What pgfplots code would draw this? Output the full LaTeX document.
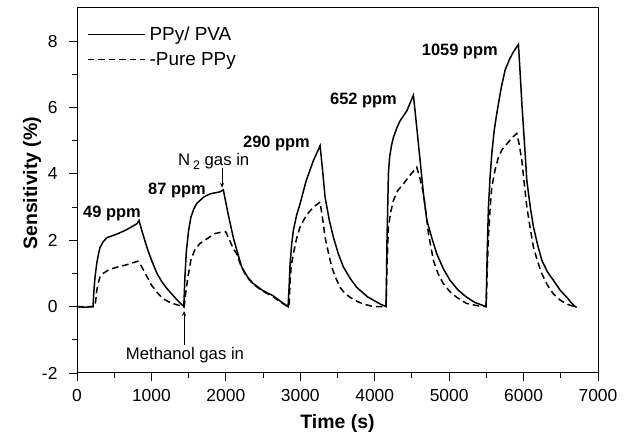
\documentclass[border=0pt]{standalone}
\usepackage{fontspec}
\setmainfont{Liberation Sans}
\usepackage{pgfplots}
\pgfplotsset{compat=1.18}
\usetikzlibrary{calc,arrows.meta}
\newcommand{\ticksize}{\fontsize{17.5}{19}\selectfont}
\newcommand{\labsize}{\fontsize{19.5}{21}\selectfont\bfseries}
\newcommand{\annb}{\fontsize{16.5}{18}\selectfont\bfseries}
\newcommand{\anns}{\fontsize{16.8}{18}\selectfont}
\newcommand{\legsize}{\fontsize{19}{20}\selectfont}
\begin{document}
\begin{tikzpicture}
\begin{axis}[
  width=521bp, height=365bp, scale only axis,
  xmin=0, xmax=7000, ymin=-2, ymax=9,
  xtick={0,1000,...,7000}, ytick={-2,0,2,4,6,8},
  minor xtick={500,1500,...,6500}, minor ytick={-1,1,3,5,7},
  tick pos=left, tick align=outside,
  major tick length=8bp, minor tick length=5bp,
  axis line style={line width=1pt},
  every tick/.style={black, line width=0.9pt},
  tick label style={font=\ticksize},
  /pgf/number format/assume math mode=true,
  scaled x ticks=false,
  xticklabel style={/pgf/number format/1000 sep={}, yshift=-5bp},
  yticklabel style={xshift=-8bp},
  xlabel={Time (s)}, ylabel={Sensitivity (\%)},
  xlabel style={font=\labsize, at={(axis description cs:0.5,-0.137)}, anchor=center},
  ylabel style={font=\labsize, at={(axis description cs:-0.0864,0.52)}, anchor=center},
  legend style={draw=none, fill=none, at={(axis description cs:0.019,0.953)}, anchor=north west, font=\legsize, row sep=7bp, column sep=3bp, inner sep=0pt, nodes={inner xsep=1bp, inner ysep=1.5bp}},
  legend cell align=left,
  legend image code/.code={\draw[#1] (0bp,0bp) -- (57bp,0bp);},
]
\addplot[black, line width=1.5bp] coordinates {
(0,0) (100,-0.02) (215,0) (228,0.5) (242,0.88) (265,1.3) (290,1.6) (309,1.78) (350,1.95) (403,2.08) (480,2.14) (551,2.2) (650,2.3) (730,2.4) (806,2.5) (833,2.6)
(870,2.3) (910,2.0) (954,1.69) (1010,1.35) (1075,1.0) (1140,0.75) (1210,0.54) (1317,0.27) (1380,0.12) (1425,0.03)
(1435,0.0) (1450,0.9) (1470,1.69) (1500,2.3) (1530,2.69) (1570,2.95) (1610,3.11) (1700,3.3) (1790,3.4) (1921,3.46) (1966,3.52)
(2030,2.8) (2100,2.08) (2160,1.6) (2213,1.19) (2290,0.9) (2365,0.7) (2500,0.48) (2634,0.33) (2740,0.15) (2820,0.03)
(2836,0.0) (2850,0.6) (2863,1.29) (2885,1.9) (2907,2.3) (2950,2.75) (2997,3.1) (3080,3.8) (3176,4.4) (3266,4.85)
(3300,4.1) (3333,3.3) (3390,2.6) (3445,2.09) (3510,1.6) (3580,1.19) (3670,0.85) (3759,0.58) (3900,0.3) (4073,0.08)
(4153,0.0) (4165,2.0) (4184,4.0) (4200,4.5) (4225,4.85) (4251,5.1) (4300,5.4) (4341,5.6) (4431,5.9) (4520,6.37)
(4565,5.4) (4610,4.4) (4655,3.4) (4700,2.6) (4770,2.05) (4834,1.59) (4920,1.15) (5013,0.79) (5120,0.5) (5237,0.28) (5350,0.12) (5461,0.03)
(5497,0.0) (5510,1.5) (5528,3.0) (5550,3.9) (5573,4.6) (5605,5.3) (5640,5.82) (5700,6.6) (5752,7.13) (5810,7.45) (5864,7.68) (5931,7.9)
(5955,7.0) (5977,6.12) (6010,5.0) (6044,3.8) (6090,3.0) (6133,2.4) (6190,1.85) (6246,1.39) (6320,1.05) (6402,0.79) (6490,0.5) (6581,0.28) (6640,0.12) (6693,0.0) (6714,-0.02)
};
\addlegendentry{PPy/ PVA}
\addplot[black, line width=1.5bp, dash pattern=on 6.5bp off 4bp] coordinates {
(0,0) (100,0) (240,0) (255,0.25) (265,0.48) (290,0.75) (310,0.9) (350,1.0) (420,1.1) (520,1.18) (650,1.25) (750,1.32) (820,1.37)
(870,1.2) (930,0.95) (1000,0.65) (1080,0.42) (1150,0.25) (1250,0.12) (1350,0.05) (1440,0)
(1460,0.4) (1490,0.88) (1530,1.4) (1580,1.7) (1650,1.9) (1750,2.05) (1850,2.2) (1950,2.25) (2000,2.25)
(2050,2.0) (2100,1.75) (2146,1.59) (2200,1.25) (2258,0.99) (2310,0.82) (2365,0.68) (2500,0.46) (2634,0.3) (2740,0.13) (2830,0)
(2850,0) (2863,0.79) (2880,1.25) (2907,1.59) (2950,2.05) (2997,2.4) (3080,2.75) (3176,3.0) (3266,3.15)
(3300,2.65) (3333,2.09) (3380,1.6) (3423,1.19) (3480,0.85) (3535,0.58) (3600,0.4) (3669,0.28) (3760,0.16) (3848,0.08) (3983,0) (4153,0)
(4165,1.2) (4184,2.4) (4215,2.85) (4251,3.2) (4310,3.5) (4386,3.7) (4470,3.95) (4565,4.2)
(4610,3.85) (4655,3.4) (4690,2.8) (4722,2.2) (4755,1.8) (4789,1.39) (4850,1.0) (4923,0.69) (5010,0.45) (5103,0.28) (5230,0.1) (5372,0.03) (5497,0)
(5510,1.0) (5528,2.1) (5550,2.95) (5573,3.6) (5615,4.1) (5662,4.5) (5715,4.75) (5775,4.9) (5840,5.08) (5909,5.22)
(5945,4.85) (5977,4.4) (6010,3.7) (6044,3.0) (6090,2.35) (6133,1.79) (6190,1.35) (6246,0.99) (6320,0.65) (6402,0.38) (6490,0.2) (6581,0.08) (6640,0.03) (6693,0) (6714,-0.02)
};
\addlegendentry{-Pure PPy}
\node[anchor=west, font=\annb, inner sep=0pt] at (axis cs:81,2.82) {49 ppm};
\node[anchor=west, font=\annb, inner sep=0pt] at (axis cs:954,3.51) {87 ppm};
\node[anchor=west, font=\annb, inner sep=0pt] at (axis cs:2230,4.93) {290 ppm};
\node[anchor=west, font=\annb, inner sep=0pt] at (axis cs:3399,6.21) {652 ppm};
\node[anchor=west, font=\annb, inner sep=0pt] at (axis cs:4631,7.68) {1059 ppm};
\node[anchor=west, font=\anns, inner sep=0pt] at (axis cs:1357,4.38) {N\,\raisebox{-0.45ex}{\fontsize{12.5}{13}\selectfont 2} gas in};
\draw[-{Stealth[length=5bp,width=4bp]}, line width=0.8bp] (axis cs:1949,4.18) -- (axis cs:1949,3.58);
\node[anchor=center, font=\anns, inner sep=0pt] at (axis cs:1451,-1.46) {Methanol gas in};
\draw[-{Stealth[length=5bp,width=4bp]}, line width=0.8bp] (axis cs:1438,-1.16) -- (axis cs:1438,-0.13);
\end{axis}
\pgfresetboundingbox
\path[use as bounding box] ($(current axis.south west)+(-77bp,-65bp)$) rectangle ($(current axis.north east)+(28bp,8bp)$);
\end{tikzpicture}
\end{document}
